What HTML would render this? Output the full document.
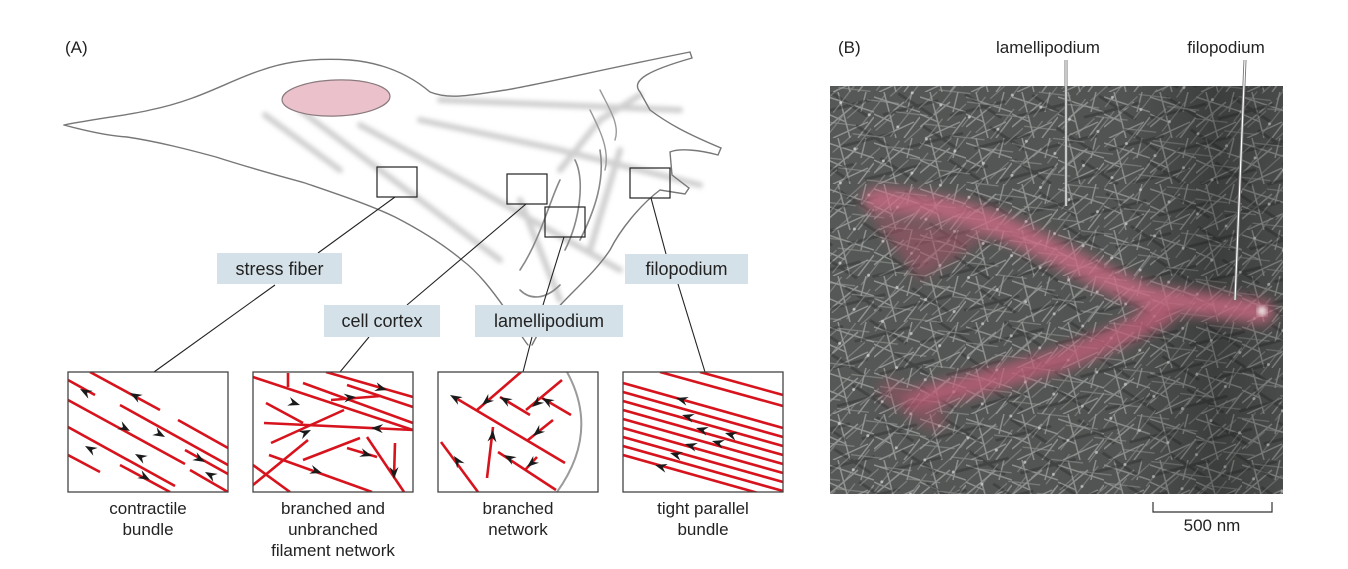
<!DOCTYPE html>
<html><head><meta charset="utf-8"><style>
html,body{margin:0;padding:0;background:#fff;}
svg{display:block;font-family:"Liberation Sans",sans-serif;}
</style></head><body>
<svg width="1348" height="569" viewBox="0 0 1348 569" xmlns="http://www.w3.org/2000/svg">
<defs>
<path id="ah" d="M0 0 L-12 -4.5 L-8 0 L-12 4.5 Z" fill="#1a1a1a"/>
<clipPath id="c1"><rect x="68" y="372" width="160" height="120"/></clipPath>
<clipPath id="c2"><rect x="253" y="372" width="160" height="120"/></clipPath>
<clipPath id="c3"><rect x="438" y="372" width="160" height="120"/></clipPath>
<clipPath id="c4"><rect x="623" y="372" width="160" height="120"/></clipPath>
<clipPath id="cb"><rect x="830" y="86" width="453" height="408"/></clipPath>
<pattern id="tex" width="46" height="46" patternUnits="userSpaceOnUse">
<rect width="46" height="46" fill="#555856"/>
<g stroke="#a3a6a3" stroke-width="1.5" fill="none" opacity="0.75">
<path d="M0 5 L46 20"/><path d="M10 0 L22 46"/><path d="M0 35 L30 10"/><path d="M30 46 L46 25"/>
<path d="M5 46 L40 30"/><path d="M38 0 L33 20"/><path d="M0 22 L18 30"/>
</g>
</pattern>
<pattern id="tex2" width="31" height="37" patternUnits="userSpaceOnUse" patternTransform="rotate(23)">
<g stroke="#9a9e9a" stroke-width="1.2" fill="none" opacity="0.6">
<path d="M0 12 L31 3"/><path d="M15 0 L5 37"/><path d="M20 37 L31 14"/>
</g>
<circle cx="8" cy="25" r="1.5" fill="#ddd" opacity="0.7"/>
</pattern>
<pattern id="tex3" width="53" height="41" patternUnits="userSpaceOnUse" patternTransform="rotate(-37)">
<g stroke="#2e302f" stroke-width="3" fill="none" opacity="0.45">
<path d="M0 8 L53 30"/><path d="M25 0 L40 41"/>
</g>
</pattern>
<linearGradient id="dark" x1="0" x2="1" y1="0" y2="0">
<stop offset="0" stop-color="#000" stop-opacity="0"/>
<stop offset="0.65" stop-color="#000" stop-opacity="0.05"/>
<stop offset="0.85" stop-color="#000" stop-opacity="0.3"/>
<stop offset="1" stop-color="#000" stop-opacity="0.15"/>
</linearGradient>
<filter id="bl"><feGaussianBlur stdDeviation="2.5"/></filter>
<filter id="bl2"><feGaussianBlur stdDeviation="6"/></filter>
</defs>

<text x="65" y="53" font-size="17" fill="#222">(A)</text>

<g fill="none" stroke-linecap="round">
<g stroke="#cfcfcf" stroke-width="6" filter="url(#bl)">
<path d="M265 115 L340 170"/><path d="M300 110 L420 200 L500 260"/>
<path d="M360 125 L470 185 L620 270"/><path d="M420 120 L560 150 L700 185"/>
<path d="M440 100 L560 105 L680 110"/><path d="M520 200 L560 300"/>
<path d="M560 170 L600 120 L640 95"/><path d="M590 250 L620 150"/>
</g>
<path d="M64 125 C100 118 130 115 150 110 C200 100 230 80 262 70 C290 60 320 58 350 60 C385 63 410 75 430 92 C450 100 470 95 506 90 C550 82 600 70 690 52 L692 58 C650 70 630 80 640 92 L650 110 C670 125 690 135 721 148 L718 155 C700 150 680 148 670 152 L672 175 L689 188 L685 194 L660 190 C640 205 620 230 610 250 C590 280 560 300 540 330 L532 345" stroke="#777" stroke-width="1.4"/>
<path d="M64 125 C90 132 110 136 127 137 C160 142 190 150 216 157 C250 168 280 176 305 183 C340 195 370 205 395 217 C430 235 450 250 462 260 C478 272 492 290 506 310 C515 325 520 335 528 345" stroke="#777" stroke-width="1.4"/>
<path d="M560 180 C550 200 540 240 520 270 M575 160 C585 180 580 220 565 250 M600 150 C605 180 595 210 580 240 M520 290 C530 300 545 300 560 285" stroke="#888" stroke-width="1.6"/>
<path d="M590 110 C600 130 610 150 605 170 M600 90 C610 110 620 125 615 140" stroke="#999" stroke-width="1.4"/>
</g>
<ellipse cx="336" cy="98" rx="54" ry="18" fill="#ebc2cc" stroke="#8a7a7e" stroke-width="1.2" transform="rotate(-2 336 98)"/>

<g fill="none" stroke="#222" stroke-width="1.2">
<rect x="377" y="167" width="40" height="30"/>
<rect x="507" y="174" width="40" height="30"/>
<rect x="545" y="207" width="40" height="30"/>
<rect x="630" y="168" width="40" height="30"/>
</g>
<g stroke="#222" stroke-width="1.1">
<line x1="395" y1="197" x2="318" y2="253"/><line x1="275" y1="285" x2="154" y2="372"/>
<line x1="526" y1="204" x2="407" y2="305"/><line x1="369" y1="337" x2="340" y2="372"/>
<line x1="564" y1="237" x2="543" y2="305"/><line x1="532" y1="337" x2="523" y2="372"/>
<line x1="651" y1="198" x2="666" y2="254"/><line x1="678" y1="284" x2="705" y2="372"/>
</g>
<g fill="#d5e1e8">
<rect x="217" y="253" width="125" height="31"/>
<rect x="324" y="305" width="116" height="32"/>
<rect x="475" y="305" width="148" height="32"/>
<rect x="625" y="254" width="123" height="30"/>
</g>
<g font-size="18" fill="#222" text-anchor="middle">
<text x="279.5" y="275">stress fiber</text>
<text x="382" y="327">cell cortex</text>
<text x="549" y="327">lamellipodium</text>
<text x="686.5" y="275">filopodium</text>
</g>

<g stroke="#d7141d" stroke-width="2.6" fill="none">
<g clip-path="url(#c1)">
<path d="M90 372 L160 410 M178 420 L228 448 M68 380 L95 395 M68 400 L185 464 M120 405 L228 465 M68 427 L175 486 M185 450 L228 474 M68 455 L100 472 M120 465 L170 492 M190 470 L228 492"/>
</g>
<g clip-path="url(#c2)">
<path d="M253 377 L413 430 M288 373 L288 387 M326 372 L413 397 M303 383 L413 423 M347 385 L413 407 M331 400 L381 396 M264 423 L413 430 M266 403 L303 423 M271 443 L344 410 M303 460 L360 438 M253 485 L308 440 M269 455 L372 492 M367 437 L404 492 M395 443 L394 477 M347 448 L377 457 M253 465 L290 492"/>
</g>
<g clip-path="url(#c3)">
<path d="M521 372 L477 410 M454 397 L565 463 M562 380 L526 410 M500 397 L530 415 M542 398 L571 415 M553 420 L528 440 M493 427 L487 478 M441 442 L478 492 M498 452 L556 490 M537 457 L525 470"/>
</g>
<g clip-path="url(#c4)">
<path d="M623 383 L783 428 M623 392 L783 437 M623 401 L783 446 M623 410 L783 455 M623 419 L783 464 M623 428 L783 473 M623 437 L783 482 M623 446 L783 491 M623 455 L783 500 M660 372 L783 406 M700 372 L783 395"/>
</g>
</g>
<path d="M567 372 Q600 432 557 492" fill="none" stroke="#9a9a9a" stroke-width="2"/>
<g fill="none" stroke="#444" stroke-width="1.3">
<rect x="68" y="372" width="160" height="120"/>
<rect x="253" y="372" width="160" height="120"/>
<rect x="438" y="372" width="160" height="120"/>
<rect x="623" y="372" width="160" height="120"/>
</g>
<g>
<use href="#ah" transform="translate(80,389) rotate(209)"/>
<use href="#ah" transform="translate(130,393) rotate(209)"/>
<use href="#ah" transform="translate(130,431) rotate(29)"/>
<use href="#ah" transform="translate(165,437) rotate(29)"/>
<use href="#ah" transform="translate(205,462) rotate(29)"/>
<use href="#ah" transform="translate(135,454) rotate(209)"/>
<use href="#ah" transform="translate(85,446) rotate(209)"/>
<use href="#ah" transform="translate(205,472) rotate(209)"/>
<use href="#ah" transform="translate(150,480) rotate(29)"/>
<use href="#ah" transform="translate(300,405) rotate(18)"/>
<use href="#ah" transform="translate(387,390) rotate(16)"/>
<use href="#ah" transform="translate(356,397) rotate(-5)"/>
<use href="#ah" transform="translate(371,428) rotate(183)"/>
<use href="#ah" transform="translate(311,430) rotate(-25)"/>
<use href="#ah" transform="translate(372,456) rotate(17)"/>
<use href="#ah" transform="translate(394,479) rotate(90)"/>
<use href="#ah" transform="translate(322,473) rotate(18)"/>
<use href="#ah" transform="translate(450,395) rotate(210)"/>
<use href="#ah" transform="translate(482,405) rotate(140)"/>
<use href="#ah" transform="translate(500,397) rotate(210)"/>
<use href="#ah" transform="translate(532,407) rotate(140)"/>
<use href="#ah" transform="translate(542,398) rotate(210)"/>
<use href="#ah" transform="translate(533,436) rotate(140)"/>
<use href="#ah" transform="translate(493,430) rotate(-85)"/>
<use href="#ah" transform="translate(504,455) rotate(210)"/>
<use href="#ah" transform="translate(454,456) rotate(235)"/>
<use href="#ah" transform="translate(527,467) rotate(140)"/>
<use href="#ah" transform="translate(676,398) rotate(196)"/>
<use href="#ah" transform="translate(682,415) rotate(196)"/>
<use href="#ah" transform="translate(696,428) rotate(196)"/>
<use href="#ah" transform="translate(712,441) rotate(196)"/>
<use href="#ah" transform="translate(685,444) rotate(196)"/>
<use href="#ah" transform="translate(670,453) rotate(196)"/>
<use href="#ah" transform="translate(655,465) rotate(196)"/>
<use href="#ah" transform="translate(725,433) rotate(196)"/>
</g>
<g font-size="17" fill="#222" text-anchor="middle">
<text x="148" y="514">contractile</text><text x="148" y="535">bundle</text>
<text x="333" y="514">branched and</text><text x="333" y="535">unbranched</text><text x="333" y="556">filament network</text>
<text x="518" y="514">branched</text><text x="518" y="535">network</text>
<text x="703" y="514">tight parallel</text><text x="703" y="535">bundle</text>
</g>

<text x="838" y="53" font-size="17" fill="#222">(B)</text>
<g clip-path="url(#cb)">
<rect x="830" y="86" width="453" height="408" fill="url(#tex)"/>
<rect x="830" y="86" width="453" height="408" fill="url(#tex3)"/>
<rect x="830" y="86" width="453" height="408" fill="url(#tex2)"/>
<rect x="830" y="86" width="453" height="408" fill="url(#dark)"/>
<g filter="url(#bl2)" fill="none" stroke-linecap="round" opacity="0.8">
<path d="M870 215 L990 235 L920 280 Z" fill="#a85468" stroke="none" opacity="0.7"/>
<path d="M875 200 C950 205 990 220 1030 240 C1080 265 1120 288 1153 298 L1262 312" stroke="#cf6a84" stroke-width="24"/>
<path d="M915 400 C980 383 1020 372 1060 360 C1105 343 1135 328 1165 313" stroke="#c45f79" stroke-width="22"/>
<path d="M890 390 L935 420" stroke="#a85468" stroke-width="22" opacity="0.6"/>
</g>
<circle cx="1262" cy="311" r="5" fill="#e9d9dc" filter="url(#bl)"/>
</g>
<g stroke-width="3" fill="none">
<line x1="1066" y1="60" x2="1066" y2="206" stroke="#777"/>
<line x1="1245" y1="60" x2="1235" y2="300" stroke="#777"/>
</g>
<g stroke-width="1.2" fill="none" stroke="#fff">
<line x1="1066" y1="60" x2="1066" y2="206"/>
<line x1="1245" y1="60" x2="1235" y2="300"/>
</g>
<g font-size="17" fill="#222" text-anchor="middle">
<text x="1048" y="53">lamellipodium</text>
<text x="1226" y="53">filopodium</text>
</g>
<path d="M1153 502 L1153 512 L1272 512 L1272 502" fill="none" stroke="#333" stroke-width="1.2"/>
<text x="1212" y="531" font-size="17" fill="#222" text-anchor="middle">500 nm</text>
</svg>
</body></html>
